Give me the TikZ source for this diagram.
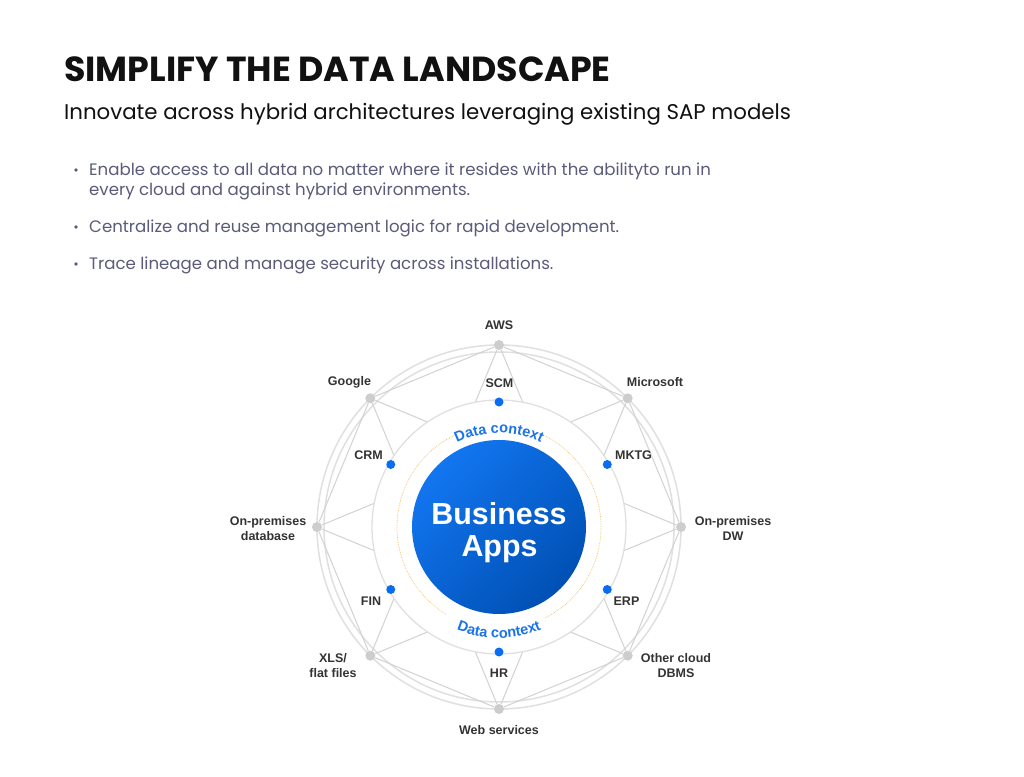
\documentclass[tikz,border=0pt]{standalone}
\usepackage{fontspec}
\setmainfont{Poppins}
\newfontfamily\lblfamily{Liberation Sans}
\usetikzlibrary{calc,decorations.text}

\definecolor{titleblack}{HTML}{111111}
\definecolor{bulletgray}{HTML}{5B5B7A}
\definecolor{labelgray}{HTML}{333333}
\definecolor{ringgray}{HTML}{E0E0E0}
\definecolor{linegray}{HTML}{D2D2D2}
\definecolor{dotgray}{HTML}{CDCDCD}
\definecolor{appblue}{HTML}{1276F0}
\definecolor{appdark}{HTML}{0050B4}
\definecolor{dotblue}{HTML}{0A6CF0}
\definecolor{ctxblue}{HTML}{1A73E8}
\definecolor{ctxorange}{HTML}{F0C070}

\newcommand{\lblfont}{\lblfamily\bfseries\fontsize{12.5}{15}\selectfont}
\newcommand{\ctxfont}{\lblfamily\bfseries\fontsize{14.5}{16}\selectfont}
\newcommand{\bizfont}{\lblfamily\bfseries\fontsize{30.4}{32}\selectfont}

\begin{document}
\begin{tikzpicture}[x=1pt, y=1pt,
    lbl/.style={font=\lblfont, text=labelgray, inner sep=0pt, align=center},
    src/.style={circle, fill=dotgray, inner sep=0pt, minimum size=10pt},
    app/.style={circle, fill=dotblue, inner sep=0pt, minimum size=9pt},
    link/.style={draw=linegray, line width=1pt},
    bullet/.style={font=\fontsize{16.6}{20}\selectfont, text=bulletgray, anchor=base west, inner sep=0pt},
    dot/.style={circle, fill=bulletgray, inner sep=0pt, minimum size=3.6pt},
    ctx/.style={decorate, decoration={text along path, text={|\ctxfont|Data context}, text align=center, text color=ctxblue}}]
    \fill[white] (0,0) rectangle (1024,776);
    \useasboundingbox (0,0) rectangle (1024,776);

    % heading
    \node[anchor=base west, inner sep=0pt, font=\bfseries\fontsize{34.8}{40}\selectfont, text=titleblack] (title) at (64,694) {SIMPLIFY THE DATA LANDSCAPE};
    \node[anchor=base west, inner sep=0pt, font=\fontsize{21.3}{26}\selectfont, text=titleblack] (subtitle) at (64,656) {Innovate across hybrid architectures leveraging existing SAP models};

    % bullets
    \node[dot] (d1) at (76,606) {};
    \node[bullet] (b1) at (89,600) {Enable access to all data no matter where it resides with the abilityto run in};
    \node[bullet] (b1x) at (89,580) {every cloud and against hybrid environments.};
    \node[dot] (d2) at (76,549) {};
    \node[bullet] (b2) at (89,543) {Centralize and reuse management logic for rapid development.};
    \node[dot] (d3) at (76,512) {};
    \node[bullet] (b3) at (89,506) {Trace lineage and manage security across installations.};

    % rings
    \coordinate (c) at (499,249);
    \draw[ringgray, line width=1.5pt] (c) circle (182pt);
    \draw[ringgray, line width=1.5pt] (c) circle (175pt);

    % sources
    \node[src] (aws) at ($(c)+(90:182pt)$) {};
    \node[src] (msft) at ($(c)+(45:182pt)$) {};
    \node[src] (dw) at ($(c)+(0:182pt)$) {};
    \node[src] (ocl) at ($(c)+(-45:182pt)$) {};
    \node[src] (web) at ($(c)+(-90:182pt)$) {};
    \node[src] (xls) at ($(c)+(-135:182pt)$) {};
    \node[src] (db) at ($(c)+(180:182pt)$) {};
    \node[src] (ggl) at ($(c)+(135:182pt)$) {};

    \draw[link] (aws) -- (msft) -- (dw) -- (ocl) -- (web) -- (xls) -- (db) -- (ggl) -- (aws);
    \draw[link] (aws) -- (ocl) -- (db) -- (msft) -- (web) -- (ggl) -- (dw) -- (xls) -- (aws);

    % inner disk
    \draw[ringgray, line width=1.3pt, fill=white] (c) circle (127pt);
    \draw[ctxorange, line width=0.7pt, densely dotted] ([shift={(116:102pt)}]c) arc[start angle=116, end angle=239, radius=102pt];
    \draw[ctxorange, line width=0.7pt, densely dotted] ([shift={(-63:102pt)}]c) arc[start angle=-63, end angle=64, radius=102pt];
    \shade[top color=appblue, bottom color=appdark, shading angle=45] (c) circle (87pt);
    \node[anchor=base, inner sep=0pt, font=\bizfont, text=white] (biz) at (499,251) {Business};
    \node[anchor=base, inner sep=0pt, font=\bizfont, text=white] (apps) at (499.5,219) {Apps};

    \path[ctx] ([shift={(150:94pt)}]c) arc[start angle=150, end angle=30, radius=94pt];
    \path[ctx] ([shift={(210:111pt)}]c) arc[start angle=210, end angle=330, radius=111pt];

    % apps
    \node[app] (scm) at ($(c)+(90:125pt)$) {};
    \node[app] (mktg) at ($(c)+(30:125pt)$) {};
    \node[app] (erp) at ($(c)+(-30:125pt)$) {};
    \node[app] (hr) at ($(c)+(-90:125pt)$) {};
    \node[app] (fin) at ($(c)+(-150:125pt)$) {};
    \node[app] (crm) at ($(c)+(150:125pt)$) {};

    % labels
    \node[lbl] (awsl) at (499,451) {AWS};
    \node[lbl] (msftl) at (655,394) {Microsoft};
    \node[lbl] (dwl) at (733,247.5) {On-premises\\DW};
    \node[lbl] (ocll) at (676,110.5) {Other cloud\\DBMS};
    \node[lbl] (webl) at (499,46) {Web services};
    \node[lbl] (xlsl) at (333,110.5) {XLS/\\flat files};
    \node[lbl] (dbl) at (268,247.5) {On-premises\\database};
    \node[lbl] (ggll) at (349.5,394) {Google};
    \node[lbl] (scml) at (499.5,393) {SCM};
    \node[lbl] (mktgl) at (633.5,321) {MKTG};
    \node[lbl] (erpl) at (626.5,175) {ERP};
    \node[lbl] (hrl) at (499,103) {HR};
    \node[lbl] (finl) at (371,175) {FIN};
    \node[lbl] (crml) at (368.5,321) {CRM};
\end{tikzpicture}
\end{document}
